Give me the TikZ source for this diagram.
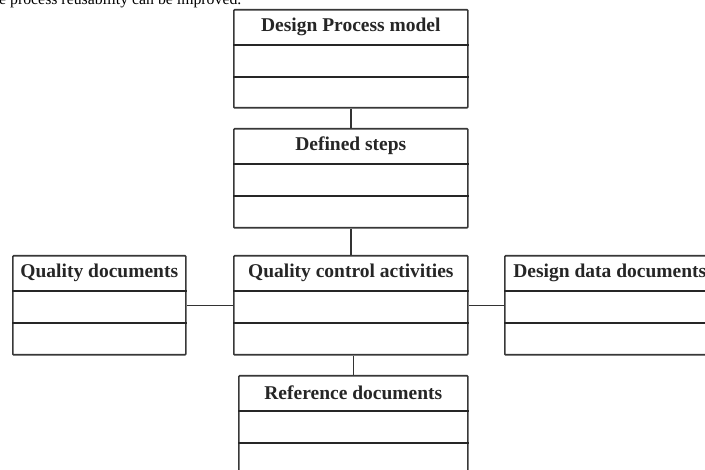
\documentclass[tikz,border=0pt]{standalone}
\usepackage{fontspec}
\setmainfont{Liberation Serif}
\usetikzlibrary{calc}
\tikzset{
  umlbox/.style={draw=black!78, line width=1.6pt, rounded corners=0.8pt, rectangle, anchor=north west, inner sep=0pt},
  divider/.style={draw=black!85, line width=1.3pt},
  title/.style={font=\bfseries\fontsize{19.5}{23}\selectfont, text=black!85, inner sep=0pt},
  conn/.style={draw=black!80, line width=1.5pt},
}
\begin{document}
\begin{tikzpicture}[x=1pt,y=-1pt]
\useasboundingbox (0,0) rectangle (705,470);
\clip (0,0) rectangle (705,470);
% cut-off line of text at the top
\node[anchor=base west, inner sep=0pt, font=\fontsize{15.8}{19}\selectfont] (toptext) at (-1,5) {e process reusability can be improved.};
% boxes
\node[umlbox, minimum width=234pt, minimum height=98pt] (dpm) at (233,9) {};
\node[umlbox, minimum width=234pt, minimum height=99pt] (ds) at (233,128) {};
\node[umlbox, minimum width=234pt, minimum height=99pt] (qc) at (233,255) {};
\node[umlbox, minimum width=173pt, minimum height=99pt] (qd) at (12,255) {};
\node[umlbox, minimum width=210pt, minimum height=99pt] (dd) at (504,255) {};
\node[umlbox, minimum width=229pt, minimum height=110pt] (ref) at (238,375) {};
% titles
\node[title] (t1) at ($(dpm.north)+(0,18)$) {Design Process model};
\node[title] (t2) at ($(ds.north)+(0,18)$) {Defined steps};
\node[title] (t3) at ($(qc.north)+(0,18)$) {Quality control activities};
\node[title] (t4) at ($(qd.north)+(0,18)$) {Quality documents};
\node[title] (t5) at ($(dd.north)+(0,18)$) {Design data documents};
\node[title] (t6) at ($(ref.north)+(0,18)$) {Reference documents};
% dividers
\foreach \b in {dpm,ds,qc,qd,dd,ref} {
  \draw[divider] ($(\b.north west)+(0,36)$) -- ($(\b.north east)+(0,36)$);
  \draw[divider] ($(\b.north west)+(0,68)$) -- ($(\b.north east)+(0,68)$);
}
% connectors
\draw[conn] (dpm.south) -- (ds.north);
\draw[conn] (ds.south) -- (qc.north);
\draw[conn] (qd.east) -- (qc.west);
\draw[conn] (qc.east) -- (qd.east -| dd.west);
\draw[conn] (ref.north |- qc.south) -- (ref.north);
\end{tikzpicture}
\end{document}
